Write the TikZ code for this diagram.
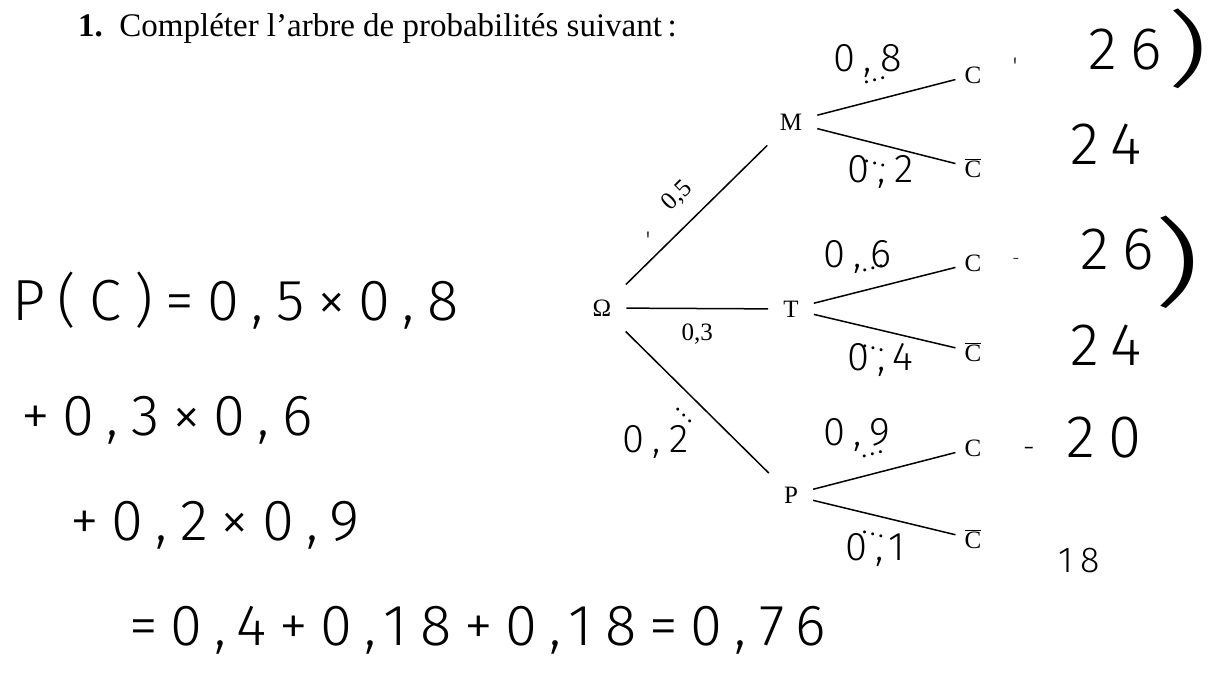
\documentclass[tikz,border=0pt]{standalone}
\usepackage{fontspec}
\setmainfont{Liberation Serif}
\newfontfamily\hand{Fira Sans Light}[LetterSpace=22]
\usepackage{graphicx}
\usetikzlibrary{positioning}

\tikzset{
  ev/.style={inner sep=15pt, font=\fontsize{25}{30}\selectfont},
  leaf/.style={inner sep=9pt, font=\fontsize{25}{30}\selectfont},
  lbl/.style={inner sep=2pt, font=\fontsize{25}{30}\selectfont},
  branch/.style={line width=1.5pt},
  hw/.style={inner sep=0pt, anchor=base west, font=\hand\fontsize{#1}{#1}\selectfont},
  hw/.default=58,
  mark/.style={inner sep=0pt, font=\hand\fontsize{#1}{#1}\selectfont},
}

\begin{document}
\begin{tikzpicture}[x=1pt, y=-1pt]
            \useasboundingbox (0,0) rectangle (1210,676);
            \node[anchor=base west, inner sep=0pt, font=\fontsize{33}{40}\selectfont] (titre) at (78,37) {\textbf{1.}\enspace Compléter l’arbre de probabilités suivant\,:};

            \node[ev] (om) at (602,308) {Ω};
            \node[ev] (m) at (791,122) {M};
            \node[ev] (t) at (791,309) {T};
            \node[ev] (p) at (791,495) {P};
            \node[leaf] (mc) at (973,75) {C};
            \node[leaf] (mnc) at (973,168) {$\overline{\mbox{C}}$};
            \node[leaf] (tc) at (973,263) {C};
            \node[leaf] (tnc) at (973,352) {$\overline{\mbox{C}}$};
            \node[leaf] (pc) at (973,448) {C};
            \node[leaf] (pnc) at (973,539) {$\overline{\mbox{C}}$};

            \path [draw, branch] (om) -- node[lbl, sloped, above=14pt] {0,5} (m);
            \path [draw, branch] (om) -- node[lbl, below=13pt] {0,3} (t);
            \path [draw, branch] (om) -- node[lbl, sloped, below=15pt] {\dots} (p);
            \path [draw, branch] (m) -- node[lbl, sloped, above=15pt, pos=.45] {\dots} (mc);
            \path [draw, branch] (m) -- node[lbl, sloped, below=15pt, pos=.45] {\dots} (mnc);
            \path [draw, branch] (t) -- node[lbl, sloped, above=15pt, pos=.45] {\dots} (tc);
            \path [draw, branch] (t) -- node[lbl, sloped, below=15pt, pos=.45] {\dots} (tnc);
            \path [draw, branch] (p) -- node[lbl, sloped, above=15pt, pos=.45] {\dots} (pc);
            \path [draw, branch] (p) -- node[lbl, sloped, below=15pt, pos=.45] {\dots} (pnc);

            \node[hw=40] (pmc) at (833,72) {0,8};
            \node[hw=40] (pmnc) at (847,183) {0,2};
            \node[hw=40] (ptc) at (823,268) {0,6};
            \node[hw=40] (ptnc) at (847,370) {0,4};
            \node[hw=40] (ppc) at (823,445) {0,9};
            \node[hw=40] (ppnc) at (845,560) {0,1};
            \node[hw=40] (pp) at (622,452) {0,2};
            \node[mark=24] (tick) at (648,240) {'};

            \node[mark=24] (mcdot) at (1015,66) {'};
            \node[hw=60] (mcn) at (1088,70) {26};
            \node[mark=82] (mpar) at (1188,49) {\scalebox{1.6}[1]{)}};
            \node[hw=60] (mncn) at (1070,165) {24};
            \node[mark=18] (tcdot) at (1016,261) {-};
            \node[hw=60] (tcn) at (1080,270) {26};
            \node[mark=95] (tpar) at (1177,262) {\scalebox{1.6}[1]{)}};
            \node[hw=60] (tncn) at (1070,365) {24};
            \node[mark=30] (pcdot) at (1029,452) {-};
            \node[hw=60] (pcn) at (1066,457) {20};
            \node[hw=36] (pncn) at (1058,572) {18};

            \node[hw] (calc1) at (12,320) {P(C)=0,5×0,8};
            \node[hw] (calc2) at (21,435) {+0,3×0,6};
            \node[hw] (calc3) at (70,540) {+0,2×0,9};
            \node[hw] (calc4) at (129,645) {=0,4+0,18+0,18=0,76};
        \end{tikzpicture}
\end{document}
